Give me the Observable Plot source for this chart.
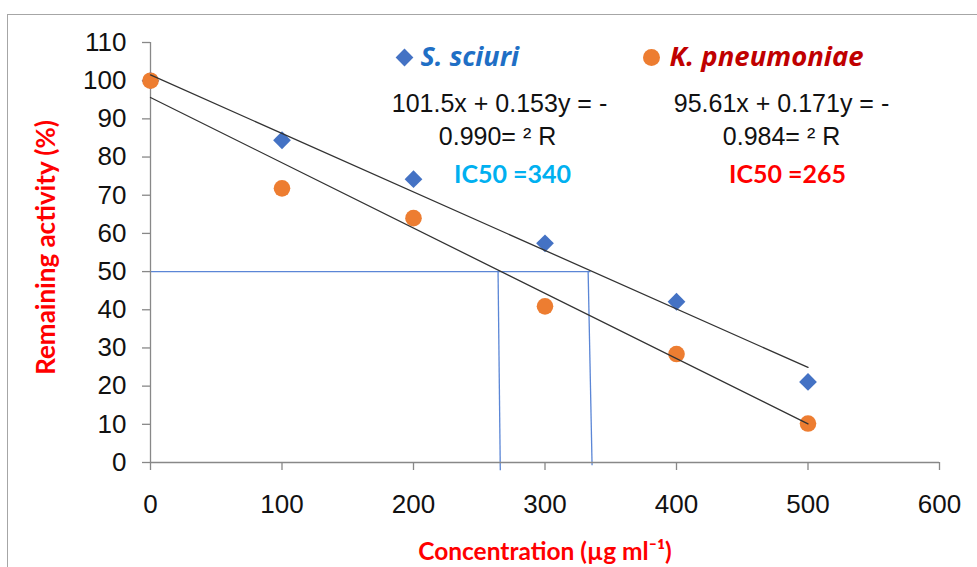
<!DOCTYPE html>
<html>
<head>
<meta charset="utf-8">
<script src="https://cdn.jsdelivr.net/npm/d3@7"></script>
<script src="https://cdn.jsdelivr.net/npm/@observablehq/plot@0.6"></script>
<style>
  html, body { margin: 0; padding: 0; background: #fff; }
  #wrap { position: relative; width: 977px; height: 567px; overflow: hidden; }
  #border { position: absolute; left: 7px; top: 14px; width: 1200px; height: 800px;
            border-left: 1.5px solid #a6a6a6; border-top: 1.5px solid #a6a6a6; }
  #chart { position: absolute; left: 0; top: 0; }
</style>
</head>
<body>
<div id="wrap"><div id="border"></div><div id="chart"></div></div>
<script>
// ---- data ----
const concentrations = [0, 100, 200, 300, 400, 500];
const sciuri = [100, 84.4, 74.2, 57.4, 42.1, 21.1];
const kpneumoniae = [100, 71.8, 64.0, 40.9, 28.4, 10.2];

// linear trend lines (endpoints)
const trendX = [0, 500];
const sciuriTrend = [101.5, 24.9];
const kpTrend = [95.6, 10.1];

// IC50 guide lines
const guideX1 = [0, 264.3, 332.8];
const guideY1 = [50, 50, 50];
const guideX2 = [334.6, 266.0, 335.8];
const guideY2 = [50, -2.0, -0.7];

const xTicks = [0, 100, 200, 300, 400, 500, 600];
const yTicks = [0, 10, 20, 30, 40, 50, 60, 70, 80, 90, 100, 110];

const seriesNames = ["S. sciuri", "K. pneumoniae"];
const eqSciuri = ["101.5x + 0.153y = -", "0.990= \u00B2 R"];
const eqKp = ["95.61x + 0.171y = -", "0.984= \u00B2 R"];
const ic50Labels = ["IC50 =340", "IC50 =265"];
const xTitle = "Concentration (\u00B5g ml\u207B\u00B9)";
const yTitle = "Remaining activity (%)";

// ---- build ----
const idx = d3.range(concentrations.length);
const blue = "#4472c4", orange = "#ed7d31";
const calibri = "Lato, 'Open Sans', sans-serif";
const openSans = "'Open Sans', Lato, sans-serif";

function label(txt, o) {
  return Plot.text([txt], Object.assign({text: d => d, frameAnchor: "top-left", lineAnchor: "middle"}, o));
}

const plot = Plot.plot({
  width: 977,
  height: 567,
  marginLeft: 150,
  marginRight: 38,
  marginTop: 42,
  marginBottom: 105,
  style: {fontFamily: "'Liberation Sans', Arial, sans-serif", background: "transparent", overflow: "visible"},
  x: {domain: [0, 600]},
  y: {domain: [0, 110]},
  marks: [
    // IC50 guides
    Plot.link(d3.range(guideX1.length), {
      x1: i => guideX1[i], y1: i => guideY1[i], x2: i => guideX2[i], y2: i => guideY2[i],
      stroke: "#5b86d6", strokeWidth: 1.3
    }),
    // axes
    Plot.ruleX([0], {y1: 0, y2: 110, stroke: "#888", strokeWidth: 1.3}),
    Plot.ruleY([0], {x1: 0, x2: 600, stroke: "#888", strokeWidth: 1.3}),
    Plot.axisY({ticks: yTicks, tickSize: 8, tickPadding: 16, fontSize: 26, fill: "#111", stroke: "#888", strokeWidth: 1.3, label: null}),
    Plot.axisX({ticks: xTicks, tickSize: 8, tickPadding: 24, fontSize: 26, fill: "#111", stroke: "#888", strokeWidth: 1.3, label: null}),
    // data points
    Plot.dot(idx, {x: i => concentrations[i], y: i => sciuri[i], symbol: "diamond2", r: 8, fill: blue}),
    Plot.dot(idx, {x: i => concentrations[i], y: i => kpneumoniae[i], symbol: "circle", r: 8.3, fill: orange}),
    // trend lines
    Plot.line(d3.range(trendX.length), {x: i => trendX[i], y: i => sciuriTrend[i], stroke: "#333", strokeWidth: 1.3}),
    Plot.line(d3.range(trendX.length), {x: i => trendX[i], y: i => kpTrend[i], stroke: "#333", strokeWidth: 1.3}),
    // legend
    Plot.dot([0], {frameAnchor: "top-left", dx: 254, dy: 15, symbol: "diamond2", r: 8, fill: blue}),
    Plot.dot([0], {frameAnchor: "top-left", dx: 501, dy: 15, symbol: "circle", r: 8.5, fill: orange}),
    label(seriesNames[0], {dx: 270, dy: 15, textAnchor: "start", fontSize: 27, fontWeight: "bold", fontStyle: "italic", fill: "#1f6fc5", fontFamily: openSans}),
    label(seriesNames[1], {dx: 519, dy: 15, textAnchor: "start", fontSize: 27.5, fontWeight: "bold", fontStyle: "italic", fill: "#c00000", fontFamily: openSans}),
    // equations
    label(eqSciuri[0], {dx: 349, dy: 61, textAnchor: "middle", fontSize: 25, fill: "#111"}),
    label(eqSciuri[1], {dx: 347, dy: 94, textAnchor: "middle", fontSize: 25, fill: "#111"}),
    label(eqKp[0], {dx: 631, dy: 61, textAnchor: "middle", fontSize: 25, fill: "#111"}),
    label(eqKp[1], {dx: 631, dy: 94, textAnchor: "middle", fontSize: 25, fill: "#111"}),
    label(ic50Labels[0], {dx: 362, dy: 132, textAnchor: "middle", fontSize: 25, fontWeight: "bold", fill: "#00b0f0", fontFamily: calibri}),
    label(ic50Labels[1], {dx: 637, dy: 132, textAnchor: "middle", fontSize: 25, fontWeight: "bold", fill: "#ff0000", fontFamily: calibri}),
    // axis titles
    Plot.text([yTitle], {text: d => d, frameAnchor: "left", textAnchor: "middle", lineAnchor: "middle", dx: -104, dy: -5, rotate: -90, fontSize: 26, fontWeight: "bold", fill: "#ff0000", fontFamily: calibri}),
    Plot.text([xTitle], {text: d => d, frameAnchor: "bottom", textAnchor: "middle", lineAnchor: "middle", dy: 90, fontSize: 24.5, fontWeight: "bold", fill: "#ff0000", fontFamily: calibri})
  ]
});
document.getElementById("chart").appendChild(plot);
</script>
</body>
</html>
